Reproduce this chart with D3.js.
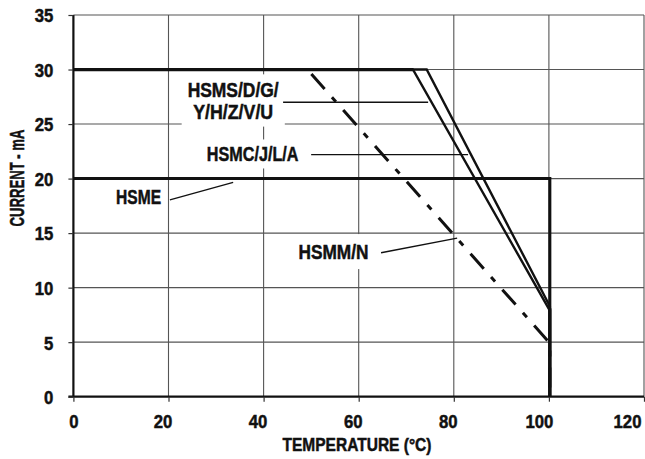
<!DOCTYPE html>
<html>
<head>
<meta charset="utf-8">
<script src="https://cdn.jsdelivr.net/npm/d3@7/dist/d3.min.js"></script>
<style>
  html, body { margin: 0; padding: 0; background: #fff; }
  svg { display: block; }
  text { font-family: "Liberation Sans", Arial, sans-serif; font-weight: bold; fill: #111; stroke: #111; stroke-width: 0.5px; }
</style>
</head>
<body>
<svg id="chart" width="645" height="459"></svg>
<script>
// ---- data ----
const xTickValues = [0, 20, 40, 60, 80, 100, 120];
const yTickValues = [0, 5, 10, 15, 20, 25, 30, 35];

const hsmsTemp    = [0, 74.3, 100.2, 100.2];
const hsmsCurrent = [30, 30, 8.3, 0];

const hsmcTemp    = [0, 71.4, 100.2, 100.2];
const hsmcCurrent = [30, 30, 7.9, 0];

const hsmeTemp    = [0, 100.2, 100.2];
const hsmeCurrent = [20, 20, 0];

const hsmmTemp    = [0, 49.2, 100.2, 100.2];
const hsmmCurrent = [30, 30, 4.9, 0];

const labelTexts = [["HSMS/D/G/", "Y/H/Z/V/U"], ["HSMC/J/L/A"], ["HSME"], ["HSMM/N"]];
const xTitle = "TEMPERATURE (°C)";
const yTitle = "CURRENT - mA";

// ---- helpers ----
function squeeze(sel, ratio) {
  sel.each(function() {
    const w = this.getComputedTextLength();
    d3.select(this).attr("textLength", w * ratio).attr("lengthAdjust", "spacingAndGlyphs");
  });
}
function fitWidth(sel, width) {
  sel.attr("textLength", width).attr("lengthAdjust", "spacingAndGlyphs");
}

// ---- layout ----
const svg = d3.select("#chart");
const x = d3.scaleLinear().domain([0, 120]).range([73.4, 644]);
const y = d3.scaleLinear().domain([0, 35]).range([396.7, 15]);

// grid
const grid = svg.append("g");
grid.selectAll("line.vg").data(xTickValues.filter(d => d > 0)).join("line")
  .attr("x1", d => x(d)).attr("x2", d => x(d))
  .attr("y1", y(0)).attr("y2", y(35))
  .attr("stroke", "#555").attr("stroke-width", 1.1);
grid.selectAll("line.hg").data(yTickValues.filter(d => d > 0)).join("line")
  .attr("x1", x(0)).attr("x2", x(120))
  .attr("y1", d => y(d)).attr("y2", d => y(d))
  .attr("stroke", "#555").attr("stroke-width", 1.1);

// axes
const xAxis = svg.append("g").attr("transform", `translate(0,${y(0)})`)
  .call(d3.axisBottom(x).tickValues(xTickValues).tickSize(5).tickPadding(8).tickFormat(d3.format("d")));
const yAxis = svg.append("g").attr("transform", `translate(${x(0)},0)`)
  .call(d3.axisLeft(y).tickValues(yTickValues).tickSize(5).tickPadding(15).tickFormat(d3.format("d")));
[xAxis, yAxis].forEach(a => {
  a.select(".domain").attr("stroke", "#111").attr("stroke-width", 2.2);
  a.selectAll(".tick line").attr("stroke", "#333").attr("stroke-width", 1.2);
  a.selectAll(".tick text").style("font-size", "19px").attr("fill", "#111");
  squeeze(a.selectAll(".tick text"), 0.88);
});
xAxis.select(".domain").attr("d", `M${x(0) - 5},0H${x(120)}`);
yAxis.select(".domain").attr("d", `M0,${y(0)}V${y(35)}`);
yAxis.selectAll(".tick text").attr("dy", "0.36em");
xAxis.selectAll(".tick text")
  .attr("dy", "0.97em")
  .attr("dx", d => d === 0 ? 0 : (d === 100 ? -10 : -6))
  .each(function(d) {
    if (d === 120) d3.select(this).attr("dx", 0).attr("x", 627 - x(120));
  });

// axis titles
fitWidth(svg.append("text").attr("x", 357).attr("y", 451).attr("text-anchor", "middle")
  .style("font-size", "19px").text(xTitle), 149);
fitWidth(svg.append("text").attr("transform", `translate(24,178) rotate(-90)`).attr("text-anchor", "middle")
  .style("font-size", "20px").text(yTitle), 97);

// label backgrounds + text (positions in data coords)
const labelSpecs = [
  { lines: labelTexts[0], t: 33.6, c: [27.45, 25.5], w: [91, 80], padX: 6, padY: 4 },
  { lines: labelTexts[1], t: 37.7, c: [21.57], w: [91.6], padX: 6, padY: 3 },
  { lines: labelTexts[2], t: 13.7, c: [17.7], w: [45], padX: 6, padY: 3 },
  { lines: labelTexts[3], t: 54.7, c: [12.62], w: [70], padX: 5, padY: 6 }
];
const bgLayer = svg.append("g");
const lineLayer = svg.append("g");
const textLayer = svg.append("g");
labelSpecs.forEach(spec => {
  const g = textLayer.append("g");
  spec.lines.forEach((s, i) => {
    fitWidth(g.append("text").attr("x", x(spec.t)).attr("y", y(spec.c[i]))
      .attr("text-anchor", "middle").style("font-size", "21px").text(s), spec.w[i]);
  });
  const bb = g.node().getBBox();
  bgLayer.append("rect").attr("x", bb.x - spec.padX).attr("y", bb.y - spec.padY)
    .attr("width", bb.width + 2 * spec.padX).attr("height", bb.height + 2 * spec.padY)
    .attr("fill", "#fff");
});

// series
const line = d3.line().x(d => x(d[0])).y(d => y(d[1]));
const zip = (a, b) => a.map((v, i) => [v, b[i]]);
lineLayer.append("path").datum(zip(hsmmTemp, hsmmCurrent)).attr("d", line)
  .attr("fill", "none").attr("stroke", "#111").attr("stroke-width", 3)
  .attr("stroke-dasharray", "20 11 6 11");
lineLayer.append("path").datum(zip(hsmeTemp, hsmeCurrent)).attr("d", line)
  .attr("fill", "none").attr("stroke", "#111").attr("stroke-width", 3);
lineLayer.append("path").datum(zip(hsmcTemp, hsmcCurrent)).attr("d", line)
  .attr("fill", "none").attr("stroke", "#111").attr("stroke-width", 2.4);
lineLayer.append("path").datum(zip(hsmsTemp, hsmsCurrent)).attr("d", line)
  .attr("fill", "none").attr("stroke", "#111").attr("stroke-width", 2.4);
// thick vertical drop and 30 mA plateau emphasis
lineLayer.append("path").datum([[100.2, 8.1], [100.2, 0]]).attr("d", line)
  .attr("fill", "none").attr("stroke", "#111").attr("stroke-width", 3.2);
lineLayer.append("path").datum([[0, 30], [71.4, 30]]).attr("d", line)
  .attr("fill", "none").attr("stroke", "#111").attr("stroke-width", 3.2);

// leader lines
const leaders = [
  [[44.1, 27.0], [74.6, 27.0]],
  [[50.0, 22.2], [83.0, 22.2]],
  [[20.3, 18.04], [33.6, 19.66]],
  [[64.7, 13.2], [80.7, 14.55]]
];
leaders.forEach(l => {
  textLayer.append("path").datum(l).attr("d", line)
    .attr("fill", "none").attr("stroke", "#111").attr("stroke-width", 1.3);
});
</script>
</body>
</html>
